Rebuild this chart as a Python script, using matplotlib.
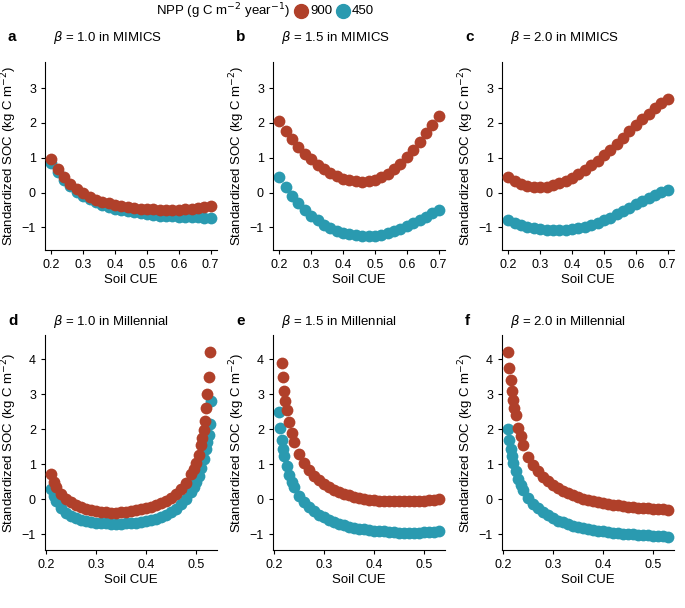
import matplotlib
matplotlib.use("Agg")
import matplotlib.pyplot as plt
from matplotlib.lines import Line2D

RED = "#B0402A"
TEAL = "#2A9AB0"

x_mimics = [0.20,0.22,0.24,0.26,0.28,0.30,0.32,0.34,0.36,0.38,0.40,0.42,0.44,0.46,0.48,0.50,0.52,0.54,0.56,0.58,0.60,0.62,0.64,0.66,0.68,0.70]
a_red  = [0.95,0.67,0.44,0.25,0.10,-0.02,-0.12,-0.20,-0.26,-0.31,-0.35,-0.39,-0.42,-0.44,-0.46,-0.47,-0.48,-0.49,-0.50,-0.50,-0.49,-0.48,-0.46,-0.44,-0.42,-0.40]
a_teal = [0.85,0.58,0.36,0.18,0.03,-0.09,-0.19,-0.28,-0.35,-0.41,-0.46,-0.50,-0.54,-0.57,-0.60,-0.62,-0.64,-0.66,-0.67,-0.68,-0.69,-0.70,-0.71,-0.71,-0.72,-0.72]
b_red  = [2.05,1.78,1.53,1.31,1.12,0.95,0.80,0.67,0.56,0.47,0.40,0.35,0.32,0.31,0.33,0.37,0.44,0.54,0.67,0.83,1.02,1.23,1.46,1.70,1.95,2.20]
b_teal = [0.45,0.15,-0.10,-0.31,-0.50,-0.66,-0.80,-0.92,-1.02,-1.10,-1.16,-1.20,-1.23,-1.25,-1.25,-1.24,-1.21,-1.17,-1.11,-1.04,-0.96,-0.88,-0.79,-0.69,-0.60,-0.50]
c_red  = [0.45,0.33,0.24,0.18,0.15,0.15,0.17,0.21,0.27,0.34,0.43,0.53,0.65,0.78,0.92,1.07,1.23,1.40,1.58,1.76,1.95,2.10,2.26,2.42,2.56,2.70]
c_teal = [-0.80,-0.88,-0.94,-0.99,-1.03,-1.06,-1.07,-1.08,-1.08,-1.07,-1.05,-1.02,-0.98,-0.93,-0.87,-0.80,-0.72,-0.63,-0.54,-0.44,-0.34,-0.25,-0.16,-0.07,0.01,0.08]

d_red = [(0.21,0.72),(0.215,0.5),(0.22,0.35),(0.23,0.15),(0.24,0.02),(0.25,-0.08),(0.26,-0.16),(0.27,-0.22),(0.28,-0.27),(0.29,-0.31),(0.30,-0.34),(0.31,-0.36),(0.32,-0.37),(0.33,-0.38),(0.34,-0.38),(0.35,-0.37),(0.36,-0.36),(0.37,-0.34),(0.38,-0.32),(0.39,-0.29),(0.40,-0.26),(0.41,-0.22),(0.42,-0.17),(0.43,-0.11),(0.44,-0.04),(0.45,0.05),(0.46,0.16),(0.47,0.30),(0.48,0.48),(0.49,0.72),(0.495,0.88),(0.50,1.05),(0.505,1.28),(0.51,1.55),(0.5125,1.75),(0.515,1.98),(0.5175,2.25),(0.52,2.6),(0.5225,3.0),(0.525,3.5),(0.5275,4.2)]
d_teal = [(0.21,0.3),(0.215,0.1),(0.22,-0.05),(0.23,-0.25),(0.24,-0.38),(0.25,-0.47),(0.26,-0.54),(0.27,-0.59),(0.28,-0.62),(0.29,-0.65),(0.30,-0.67),(0.31,-0.68),(0.32,-0.69),(0.33,-0.70),(0.34,-0.70),(0.35,-0.70),(0.36,-0.69),(0.37,-0.68),(0.38,-0.67),(0.39,-0.65),(0.40,-0.63),(0.41,-0.60),(0.42,-0.56),(0.43,-0.51),(0.44,-0.45),(0.45,-0.37),(0.46,-0.27),(0.47,-0.14),(0.48,0.02),(0.49,0.22),(0.495,0.35),(0.50,0.5),(0.505,0.68),(0.51,0.9),(0.515,1.15),(0.52,1.45),(0.5225,1.65),(0.525,1.85),(0.5275,2.15),(0.53,2.8)]
e_red = [(0.215,3.9),(0.2175,3.5),(0.22,3.1),(0.2225,2.8),(0.225,2.55),(0.23,2.2),(0.235,1.9),(0.24,1.65),(0.25,1.3),(0.26,1.05),(0.27,0.85),(0.28,0.68),(0.29,0.55),(0.30,0.44),(0.31,0.35),(0.32,0.27),(0.33,0.21),(0.34,0.15),(0.35,0.11),(0.36,0.07),(0.37,0.04),(0.38,0.01),(0.39,-0.01),(0.40,-0.03),(0.41,-0.04),(0.42,-0.05),(0.43,-0.06),(0.44,-0.06),(0.45,-0.06),(0.46,-0.06),(0.47,-0.06),(0.48,-0.05),(0.49,-0.05),(0.50,-0.04),(0.51,-0.03),(0.52,-0.02),(0.53,0.0)]
e_teal = [(0.21,2.5),(0.2125,2.05),(0.215,1.7),(0.2175,1.45),(0.22,1.25),(0.225,0.95),(0.23,0.7),(0.235,0.5),(0.24,0.35),(0.25,0.1),(0.26,-0.08),(0.27,-0.22),(0.28,-0.34),(0.29,-0.44),(0.30,-0.52),(0.31,-0.59),(0.32,-0.65),(0.33,-0.70),(0.34,-0.74),(0.35,-0.78),(0.36,-0.81),(0.37,-0.84),(0.38,-0.86),(0.39,-0.88),(0.40,-0.90),(0.41,-0.91),(0.42,-0.92),(0.43,-0.93),(0.44,-0.94),(0.45,-0.95),(0.46,-0.95),(0.47,-0.95),(0.48,-0.95),(0.49,-0.95),(0.50,-0.94),(0.51,-0.94),(0.52,-0.93),(0.53,-0.92)]
f_red = [(0.21,4.2),(0.2125,3.75),(0.215,3.4),(0.2175,3.1),(0.22,2.85),(0.2225,2.6),(0.225,2.4),(0.23,2.05),(0.235,1.8),(0.24,1.55),(0.25,1.22),(0.26,0.98),(0.27,0.8),(0.28,0.65),(0.29,0.52),(0.30,0.42),(0.31,0.33),(0.32,0.25),(0.33,0.18),(0.34,0.12),(0.35,0.07),(0.36,0.02),(0.37,-0.02),(0.38,-0.05),(0.39,-0.08),(0.40,-0.11),(0.41,-0.13),(0.42,-0.15),(0.43,-0.17),(0.44,-0.19),(0.45,-0.21),(0.46,-0.22),(0.47,-0.24),(0.48,-0.25),(0.49,-0.26),(0.50,-0.27),(0.51,-0.28),(0.52,-0.29),(0.53,-0.30)]
f_teal = [(0.21,2.0),(0.2125,1.7),(0.215,1.45),(0.2175,1.25),(0.22,1.05),(0.225,0.8),(0.23,0.58),(0.235,0.42),(0.24,0.28),(0.25,0.05),(0.26,-0.12),(0.27,-0.26),(0.28,-0.37),(0.29,-0.46),(0.30,-0.54),(0.31,-0.61),(0.32,-0.66),(0.33,-0.71),(0.34,-0.75),(0.35,-0.79),(0.36,-0.82),(0.37,-0.85),(0.38,-0.87),(0.39,-0.90),(0.40,-0.92),(0.41,-0.94),(0.42,-0.95),(0.43,-0.97),(0.44,-0.98),(0.45,-0.99),(0.46,-1.00),(0.47,-1.01),(0.48,-1.02),(0.49,-1.03),(0.50,-1.04),(0.51,-1.05),(0.52,-1.06),(0.53,-1.07)]

letters = ["a", "b", "c", "d", "e", "f"]
betas = ["1.0", "1.5", "2.0", "1.0", "1.5", "2.0"]
models = ["MIMICS"] * 3 + ["Millennial"] * 3
npp_labels = ["900", "450"]

plt.rcParams["font.family"] = ["Liberation Sans", "DejaVu Sans"]
fig = plt.figure(figsize=(6.85, 6.08), dpi=100)
W, H = 685, 608
lefts = [45, 273, 502]
aw = 172
rows = [(62, 250), (335, 550)]

mimics = [(x_mimics, a_red, x_mimics, a_teal), (x_mimics, b_red, x_mimics, b_teal), (x_mimics, c_red, x_mimics, c_teal)]
mill = []
for r, t in [(d_red, d_teal), (e_red, e_teal), (f_red, f_teal)]:
    mill.append(([p[0] for p in r], [p[1] for p in r], [p[0] for p in t], [p[1] for p in t]))
allsets = mimics + mill

for i in range(6):
    row, col = divmod(i, 3)
    top, bot = rows[row]
    ax = fig.add_axes([lefts[col] / W, 1 - bot / H, aw / W, (bot - top) / H])
    xr, yr, xt, yt = allsets[i]
    ax.scatter(xt, yt, s=72, color=TEAL, linewidths=0, zorder=2)
    ax.scatter(xr, yr, s=72, color=RED, linewidths=0, zorder=3)
    for s in ["top", "right"]:
        ax.spines[s].set_visible(False)
    ax.tick_params(labelsize=9, length=3)
    if row == 0:
        ax.set_xlim(0.18, 0.72)
        ax.set_ylim(-1.65, 3.75)
        ax.set_yticks([-1, 0, 1, 2, 3])
        ax.set_xticks([0.2, 0.3, 0.4, 0.5, 0.6, 0.7])
        ax.set_xticklabels(["0.2", "0.3", "0.4", "0.5", "0.6", "0.7"])
    else:
        ax.set_xlim(0.198, 0.542)
        ax.set_ylim(-1.45, 4.7)
        ax.set_yticks([-1, 0, 1, 2, 3, 4])
        ax.set_xticks([0.2, 0.3, 0.4, 0.5])
        ax.set_xticklabels(["0.2", "0.3", "0.4", "0.5"])
    ax.set_xlabel("Soil CUE", fontsize=9.5, labelpad=2)
    ax.set_ylabel("Standardized SOC (kg C m$^{-2}$)", fontsize=9.5, labelpad=2)
    ty = 1 - (37 if row == 0 else 321) / H
    fig.text((lefts[col] - 37) / W, ty, letters[i], fontsize=11, fontweight="bold", va="center")
    fig.text((lefts[col] + 8) / W, ty, r"$\beta$ = " + betas[i] + " in " + models[i], fontsize=9.5, va="center")

# legend drawn manually at the top
ly = 1 - 11 / H
fig.text(290 / W, ly, "NPP (g C m$^{-2}$ year$^{-1}$)", fontsize=9.5, ha="right", va="center")
fig.add_artist(Line2D([301 / W], [ly], marker="o", color=RED, markersize=10, linestyle="", transform=fig.transFigure))
fig.text(310 / W, ly, npp_labels[0], fontsize=9.5, ha="left", va="center")
fig.add_artist(Line2D([343 / W], [ly], marker="o", color=TEAL, markersize=10, linestyle="", transform=fig.transFigure))
fig.text(352 / W, ly, npp_labels[1], fontsize=9.5, ha="left", va="center")

fig.savefig("out.png", dpi=100)
